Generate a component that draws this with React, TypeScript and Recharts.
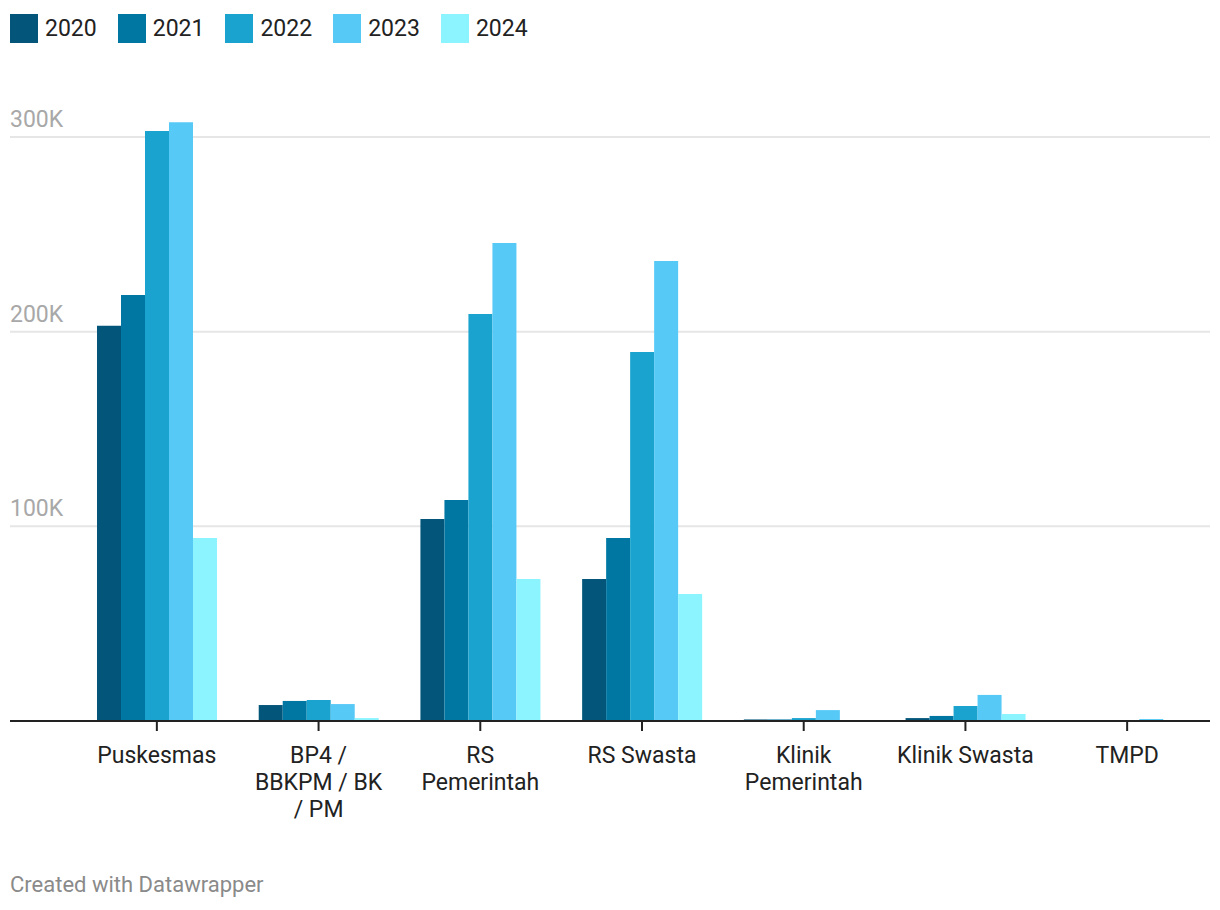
import React from 'react';
import { BarChart, Bar, XAxis, YAxis, CartesianGrid } from 'recharts';

const categories = [
  'Puskesmas',
  'BP4 / BBKPM / BK / PM',
  'RS Pemerintah',
  'RS Swasta',
  'Klinik Pemerintah',
  'Klinik Swasta',
  'TMPD',
];

// how the category labels break into lines under each group
const categoryLines = [
  ['Puskesmas'],
  ['BP4 /', 'BBKPM / BK', '/ PM'],
  ['RS', 'Pemerintah'],
  ['RS Swasta'],
  ['Klinik', 'Pemerintah'],
  ['Klinik Swasta'],
  ['TMPD'],
];

const years = ['2020', '2021', '2022', '2023', '2024'];
const colors = ['#03557a', '#0077a3', '#1aa3cf', '#56c9f7', '#8bf4ff'];

const v2020 = [203000, 8200, 103700, 72900, 800, 1500, 0];
const v2021 = [218800, 10300, 113500, 94000, 800, 2600, 0];
const v2022 = [303000, 10800, 209000, 189500, 1500, 7700, 0];
const v2023 = [307600, 8700, 245500, 236300, 5600, 13400, 1000];
const v2024 = [94000, 1500, 72900, 65200, 0, 3600, 0];

const yTicks = [0, 100000, 200000, 300000];
const yTickLabels = ['', '100K', '200K', '300K'];

const seriesValues = [v2020, v2021, v2022, v2023, v2024];

const data = categories.map((name, i) => {
  const row: Record<string, string | number> = { name };
  years.forEach((y, s) => {
    row[y] = seriesValues[s][i];
  });
  return row;
});

const FONT = 'Roboto, "Noto Sans", sans-serif';

// y labels sit above the gridline, flush left
const YTick = (props: any) => {
  const { y, payload } = props;
  const idx = yTicks.indexOf(payload.value);
  return (
    <text x={10} y={y - 10} fill="#a8a8a8" fontSize={23} fontFamily={FONT} textAnchor="start">
      {yTickLabels[idx]}
    </text>
  );
};

const XTick = (props: any) => {
  const { x, y, payload } = props;
  const idx = categories.indexOf(String(payload.value));
  const lines = categoryLines[idx] || [String(payload.value)];
  return (
    <text x={x} y={y + 30} textAnchor="middle" fontSize={23} fontFamily={FONT} fill="#222">
      {lines.map((l, i) => (
        <tspan key={i} x={x} dy={i === 0 ? 0 : 27}>
          {l}
        </tspan>
      ))}
    </text>
  );
};

export default function App() {
  return (
    <div style={{ position: 'relative', width: 1220, height: 910, fontFamily: FONT, background: '#fff' }}>
      <style>{`body{margin:0}`}</style>
      <div style={{ position: 'absolute', top: 14, left: 10, display: 'flex', alignItems: 'center' }}>
        {years.map((y, i) => (
          <div key={y} style={{ display: 'flex', alignItems: 'center', marginRight: 21 }}>
            <div style={{ width: 28, height: 29, background: colors[i], marginRight: 7 }} />
            <span style={{ fontSize: 23, color: '#222', lineHeight: '29px' }}>{y}</span>
          </div>
        ))}
      </div>

      <div style={{ position: 'absolute', top: 0, left: 0 }}>
        <BarChart
          width={1220}
          height={860}
          data={data}
          margin={{ top: 98, right: 10, bottom: 0, left: 9 }}
          barGap={0}
        >
          <CartesianGrid vertical={false} stroke="#e6e6e6" strokeWidth={2} syncWithTicks />
          <YAxis
            width={1}
            domain={[0, 320000]}
            ticks={yTicks}
            axisLine={false}
            tickLine={false}
            tick={<YTick />}
            interval={0}
          />
          <XAxis
            dataKey="name"
            height={139}
            padding={{ left: 66, right: 2 }}
            axisLine={{ stroke: '#222', strokeWidth: 2 }}
            tickLine={{ stroke: '#222', strokeWidth: 2 }}
            tickSize={10}
            interval={0}
            tick={<XTick />}
          />
          {years.map((y, i) => (
            <Bar key={y} dataKey={y} fill={colors[i]} barSize={24} isAnimationActive={false} />
          ))}
        </BarChart>
      </div>

      <div style={{ position: 'absolute', top: 872, left: 10, fontSize: 22, lineHeight: '26px', color: '#8a8a8a' }}>
        Created with Datawrapper
      </div>
    </div>
  );
}
